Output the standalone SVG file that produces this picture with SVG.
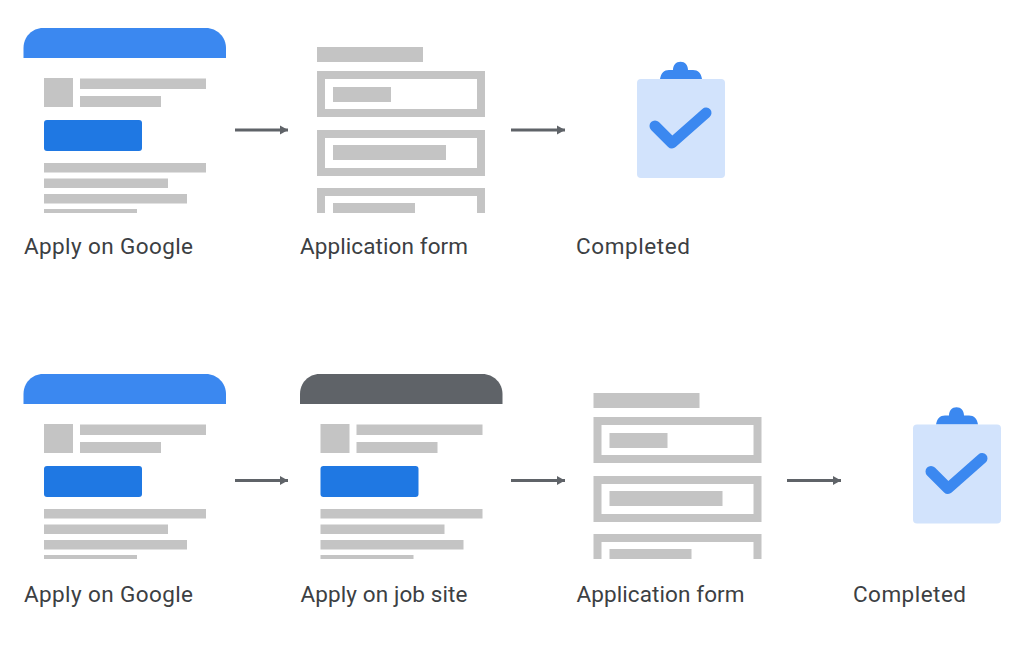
<svg xmlns="http://www.w3.org/2000/svg" xmlns:xlink="http://www.w3.org/1999/xlink" width="1024" height="647" viewBox="0 0 1024 647">
<style>
.g{fill:#c4c4c4}
.bx{fill:none;stroke:#c4c4c4;stroke-width:8}
.btn{fill:#1f78e3}
.hb{fill:#3b88f0}
.hd{fill:#5f6368}
.lb{font-family:"Roboto","Liberation Sans",sans-serif;font-size:22.500px;fill:#3c4043}
.cn{fill:none;stroke:#5f6368;stroke-width:3;marker-end:url(#ah)}
</style>
<defs>
<marker id="ah" markerUnits="userSpaceOnUse" markerWidth="10" markerHeight="10" refX="9" refY="5" orient="auto"><path d="M1 0.500L9 5L1 9.500Z" fill="#5f6368"/></marker>
<g id="page">
<rect class="g" x="44" y="78" width="29" height="29"/>
<rect class="g" x="80" y="78.500" width="126" height="10.500"/>
<rect class="g" x="80" y="96" width="81" height="11"/>
<rect class="btn" x="44" y="120" width="98" height="31" rx="3"/>
<rect class="g" x="44" y="163" width="162" height="9.500"/>
<rect class="g" x="44" y="178.500" width="124" height="9.500"/>
<rect class="g" x="44" y="194" width="143" height="9.500"/>
<rect class="g" x="44" y="209" width="93" height="4"/>
</g>
<g id="form">
<rect class="g" x="317" y="47" width="106" height="15"/>
<rect class="bx" x="321" y="75" width="160" height="38"/>
<rect class="g" x="333" y="87" width="58" height="15"/>
<rect class="bx" x="321" y="134" width="160" height="38"/>
<rect class="g" x="333" y="145" width="113" height="15"/>
<path class="bx" d="M321 213V192H481V213"/>
<rect class="g" x="333" y="203" width="82" height="10"/>
</g>
<g id="clip">
<path class="hb" d="M660 79C661 73 664 70 669 70L673 70C673 65 676 61.700 680.500 61.700C685 61.700 688 65 688 70L693 70C698 70 701 73 702 79Z"/>
<rect x="637" y="79" width="88" height="99" rx="4" fill="#d2e3fc"/>
<path d="M655 126L672 143L706 113" fill="none" stroke="#3b88f0" stroke-width="11" stroke-linecap="round" stroke-linejoin="round"/>
</g>
</defs>
<g id="connectors">
<path class="cn" d="M235 130H288"/>
<path class="cn" d="M511 130H565"/>
<path class="cn" d="M235 480.500H288"/>
<path class="cn" d="M511 480.500H565"/>
<path class="cn" d="M787 480.500H841"/>
</g>
<g id="top-google">
<path class="hb" d="M23.500 58V48C23.500 37 32 28 43 28H206C217 28 226 37 226 48V58Z"/>
<use xlink:href="#page"/>
<text class="lb" x="24" y="254" textLength="169">Apply on Google</text>
</g>
<g id="top-form">
<use xlink:href="#form"/>
<text class="lb" x="300" y="254" textLength="168">Application form</text>
</g>
<g id="top-completed">
<use xlink:href="#clip"/>
<text class="lb" x="576" y="254" textLength="114">Completed</text>
</g>
<g id="bottom-google" transform="translate(0 346)">
<path class="hb" d="M23.500 58V48C23.500 37 32 28 43 28H206C217 28 226 37 226 48V58Z"/>
<use xlink:href="#page"/>
<text class="lb" x="24" y="256" textLength="169">Apply on Google</text>
</g>
<g id="bottom-jobsite" transform="translate(276.500 346)">
<path class="hd" d="M23.500 58V48C23.500 37 32 28 43 28H206C217 28 226 37 226 48V58Z"/>
<use xlink:href="#page"/>
<text class="lb" x="24" y="256" textLength="167">Apply on job site</text>
</g>
<g id="bottom-form" transform="translate(276.500 346)">
<use xlink:href="#form"/>
<text class="lb" x="300" y="256" textLength="168">Application form</text>
</g>
<g id="bottom-completed" transform="translate(276 345.500)">
<use xlink:href="#clip"/>
<text class="lb" x="577" y="256" textLength="113">Completed</text>
</g>
</svg>
